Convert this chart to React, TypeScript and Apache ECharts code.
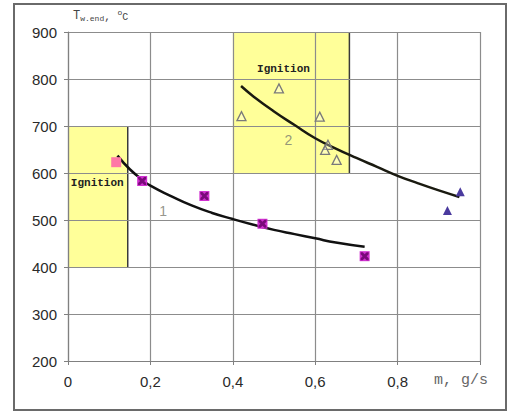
import React, { useEffect, useRef } from "react";
import * as echarts from "echarts";

// Ignition zones: [xStart, yBottom, xEnd, yTop, labelX, labelY]
const ignitionZones: number[][] = [
  [0, 400, 0.145, 700, 0.071, 579],
  [0.4, 600, 0.683, 900, 0.523, 821],
];

// Fitted curve 1
const curve1: number[][] = [
  [0.12, 637], [0.15, 608], [0.18, 586], [0.2, 573], [0.25, 551], [0.3, 531],
  [0.35, 515], [0.4, 502], [0.45, 490], [0.5, 479], [0.55, 470], [0.6, 461],
  [0.65, 452], [0.72, 443],
];
// Fitted curve 2
const curve2: number[][] = [
  [0.42, 785], [0.45, 763], [0.5, 731], [0.55, 702], [0.6, 674], [0.65, 652],
  [0.7, 632], [0.75, 613], [0.8, 594], [0.85, 578], [0.9, 563], [0.95, 549],
];

// Measured points
const pinkPoint: number[][] = [[0.117, 623]];
const series1Points: number[][] = [[0.18, 583], [0.331, 551], [0.472, 492], [0.72, 423]];
const series2Points: number[][] = [
  [0.421, 721], [0.512, 780], [0.611, 720], [0.631, 660], [0.624, 649], [0.652, 628],
];
const series3Points: number[][] = [[0.952, 560], [0.921, 520]];

// Curve number labels
const curveLabels: (number | string)[][] = [[0.231, 519, "1"], [0.535, 670, "2"]];

const xTicks = [0, 0.2, 0.4, 0.6, 0.8];

const X_PATH =
  "path://M0,0L2.5,0L5,2.5L7.5,0L10,0L10,2.5L7.5,5L10,7.5L10,10L7.5,10L5,7.5L2.5,10L0,10L0,7.5L2.5,5L0,2.5Z";

export default function App() {
  const ref = useRef<HTMLDivElement>(null);

  useEffect(() => {
    if (!ref.current) return;
    const chart = echarts.init(ref.current, null, { renderer: "svg" });
    const option: any = {
      animation: false,
      backgroundColor: "#ffffff",
      grid: { left: 68, top: 32, right: 34, bottom: 53, containLabel: false },
      xAxis: {
        type: "value",
        min: 0,
        max: 1,
        interval: 0.2,
        axisLine: { show: true, onZero: false, lineStyle: { color: "#808080", width: 1.2 } },
        axisTick: { show: true, length: 4, lineStyle: { color: "#808080" } },
        splitLine: { show: true, lineStyle: { color: "#8c8c8c", width: 1.2 } },
        axisLabel: {
          margin: 13,
          color: "#2a2a2a",
          fontSize: 15,
          fontFamily: "Liberation Sans, Arial",
          formatter: (v: number) => {
            const t = xTicks.find((k) => Math.abs(k - v) < 1e-6);
            if (t === undefined) return "";
            return t === 0 ? "0" : t.toFixed(1).replace(".", ",");
          },
        },
      },
      yAxis: {
        type: "value",
        min: 200,
        max: 900,
        interval: 100,
        axisLine: { show: true, onZero: false, lineStyle: { color: "#808080", width: 1.2 } },
        axisTick: { show: true, length: 4, lineStyle: { color: "#808080" } },
        splitLine: { show: true, lineStyle: { color: "#8c8c8c", width: 1.2 } },
        axisLabel: {
          margin: 11,
          color: "#2a2a2a",
          fontSize: 15,
          fontFamily: "Liberation Sans, Arial",
        },
      },
      graphic: [
        {
          type: "rect",
          shape: { x: 14, y: 4, width: 492, height: 406 },
          style: { fill: "none", stroke: "#6a6a6a", lineWidth: 2 },
          silent: true,
        },
        {
          type: "text",
          left: 73,
          top: 8,
          style: {
            text: "{t|T}{s|w.end}{n|, }{o|o}{c|C}",
            rich: {
              t: { fontSize: 12, lineHeight: 14, fontFamily: "Liberation Mono", fill: "#444", verticalAlign: "bottom" },
              s: { fontSize: 8, lineHeight: 14, fontFamily: "Liberation Mono", fill: "#444", verticalAlign: "bottom" },
              n: { fontSize: 11, lineHeight: 14, fontFamily: "Liberation Mono", fill: "#444", verticalAlign: "bottom" },
              o: { fontSize: 8, lineHeight: 14, fontFamily: "Liberation Mono", fill: "#444", verticalAlign: "top" },
              c: { fontSize: 10, lineHeight: 14, fontFamily: "Liberation Mono", fill: "#444", verticalAlign: "bottom" },
            },
          },
        },
        {
          type: "text",
          left: 434,
          top: 373,
          style: {
            text: "m, g/s",
            fontSize: 15,
            fontFamily: "Liberation Mono",
            fill: "#666",
          },
        },
      ],
      series: [
        {
          type: "custom",
          z: -1,
          data: ignitionZones,
          encode: { x: [0, 2], y: [1, 3] },
          renderItem: (params: any, api: any) => {
            const x0 = api.value(0);
            const y0 = api.value(1);
            const x1 = api.value(2);
            const y1 = api.value(3);
            const p0 = api.coord([x0, y1]);
            const p1 = api.coord([x1, y0]);
            const lp = api.coord([api.value(4), api.value(5)]);
            return {
              type: "group",
              children: [
                {
                  type: "rect",
                  shape: { x: p0[0], y: p0[1], width: p1[0] - p0[0], height: p1[1] - p0[1] },
                  style: { fill: "#ffff99" },
                },
                {
                  type: "line",
                  shape: { x1: p1[0], y1: p0[1], x2: p1[0], y2: p1[1] },
                  style: { stroke: "#3a3a3a", lineWidth: 1.5 },
                },
                {
                  type: "text",
                  x: lp[0],
                  y: lp[1],
                  z2: 10,
                  style: {
                    text: "Ignition",
                    font: 'bold 11px "Liberation Mono"',
                    fill: "#222",
                    align: "center",
                    verticalAlign: "middle",
                  },
                },
              ],
            };
          },
        },
        {
          type: "line",
          data: curve1,
          smooth: true,
          showSymbol: false,
          lineStyle: { color: "#111", width: 2.5 },
          z: 3,
        },
        {
          type: "line",
          data: curve2,
          smooth: true,
          showSymbol: false,
          lineStyle: { color: "#1a1a10", width: 2.5 },
          z: 3,
        },
        {
          type: "scatter",
          data: pinkPoint,
          symbol: "rect",
          symbolSize: 10,
          itemStyle: { color: "#ff78a6", opacity: 1 },
          z: 4,
        },
        {
          type: "scatter",
          data: series1Points,
          symbol: "rect",
          symbolSize: 10,
          itemStyle: { color: "#d030d0", opacity: 1 },
          z: 4,
        },
        {
          type: "scatter",
          data: series1Points,
          symbol: X_PATH,
          symbolSize: 8,
          itemStyle: { color: "#7a0a7a", opacity: 1 },
          z: 5,
        },
        {
          type: "scatter",
          data: series2Points,
          symbol: "triangle",
          symbolSize: 9,
          itemStyle: { color: "rgba(255,255,255,0.3)", borderColor: "#7a7a7a", borderWidth: 1.3, opacity: 1 },
          z: 4,
        },
        {
          type: "scatter",
          data: series3Points,
          symbol: "triangle",
          symbolSize: 9,
          itemStyle: { color: "#4a3a9e", opacity: 1 },
          z: 4,
        },
        {
          type: "scatter",
          data: curveLabels,
          symbolSize: 0,
          label: {
            show: true,
            position: "inside",
            formatter: (p: any) => p.value[2],
            fontSize: 14,
            fontFamily: "Liberation Sans, Arial",
            color: "#7a7a70",
          },
          z: 4,
        },
      ],
    };
    chart.setOption(option);
    return () => chart.dispose();
  }, []);

  return (
    <div
      ref={ref}
      style={{ position: "absolute", left: 0, top: 0, width: 514, height: 414 }}
    />
  );
}
